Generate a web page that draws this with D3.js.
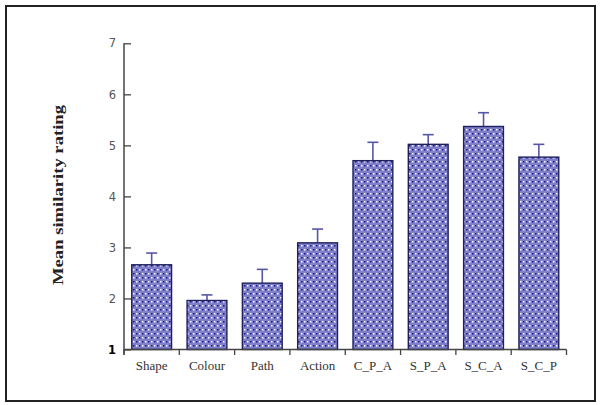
<!DOCTYPE html>
<html>
<head>
<meta charset="utf-8">
<script src="https://cdn.jsdelivr.net/npm/d3@7/dist/d3.min.js"></script>
<style>
  html, body { margin: 0; padding: 0; background: #fff; }
  svg { display: block; }
</style>
</head>
<body>
<svg id="chart" width="600" height="405"></svg>
<script>
// Stimulus conditions and their mean similarity ratings (with the upper end of each error bar)
const conditions = ["Shape", "Colour", "Path", "Action", "C_P_A", "S_P_A", "S_C_A", "S_C_P"];
const meanRating = [2.66, 1.96, 2.30, 3.09, 4.70, 5.02, 5.37, 4.77];
const errorTop   = [2.89, 2.07, 2.57, 3.36, 5.06, 5.21, 5.64, 5.02];
const yTicks     = [1, 2, 3, 4, 5, 6, 7];

const svg = d3.select("#chart");

// Outer frame
svg.append("rect")
  .attr("x", 6).attr("y", 6)
  .attr("width", 589).attr("height", 395)
  .attr("fill", "#fff")
  .attr("stroke", "#222").attr("stroke-width", 2);

// Dotted fill used for the bars: alternating rows of navy and white dots
const defs = svg.append("defs");
const pat = defs.append("pattern")
  .attr("id", "dots")
  .attr("patternUnits", "userSpaceOnUse")
  .attr("width", 6).attr("height", 8);
pat.append("rect").attr("width", 6).attr("height", 8).attr("fill", "#7f7fcc");
[[1, 1, "#1c1c80"], [4, 1, "#ffffff"], [1, 5, "#ffffff"], [4, 5, "#1c1c80"]].forEach(([px, py, col]) => {
  pat.append("rect").attr("x", px).attr("y", py)
    .attr("width", 1.5).attr("height", 1.5).attr("fill", col);
});

const x = d3.scaleBand()
  .domain(conditions)
  .range([124, 566.5])
  .paddingInner(0.28)
  .paddingOuter(0.14);

const y = d3.scaleLinear()
  .domain([1, 7])
  .range([349.5, 43.3]);

const rows = conditions.map((c, i) => ({ c, m: meanRating[i], e: errorTop[i] }));

// Error bars (drawn first so the bar top covers the stem base)
const err = svg.append("g").attr("stroke", "#5656a8").attr("stroke-width", 1.6).attr("fill", "none");
err.selectAll("line.stem").data(rows).join("line")
  .attr("class", "stem")
  .attr("x1", d => x(d.c) + x.bandwidth() / 2)
  .attr("x2", d => x(d.c) + x.bandwidth() / 2)
  .attr("y1", d => y(d.m))
  .attr("y2", d => y(d.e));
err.selectAll("line.cap").data(rows).join("line")
  .attr("class", "cap")
  .attr("x1", d => x(d.c) + x.bandwidth() / 2 - 5.5)
  .attr("x2", d => x(d.c) + x.bandwidth() / 2 + 5.5)
  .attr("y1", d => y(d.e))
  .attr("y2", d => y(d.e));

// Bars
svg.append("g").selectAll("rect").data(rows).join("rect")
  .attr("x", d => x(d.c))
  .attr("y", d => y(d.m))
  .attr("width", x.bandwidth())
  .attr("height", d => y(1) - y(d.m))
  .attr("fill", "url(#dots)")
  .attr("stroke", "#20205e")
  .attr("stroke-width", 1.4);

// Y axis
const yAxis = svg.append("g")
  .attr("transform", "translate(124,0)")
  .call(d3.axisLeft(y).tickValues(yTicks).tickFormat(d3.format("d"))
    .tickSizeInner(-7).tickSizeOuter(0).tickPadding(8));
yAxis.select(".domain").attr("stroke", "#444").attr("stroke-width", 1.5)
  .attr("d", `M0,${y(7)}V${y(1) + 5}`);
yAxis.selectAll(".tick line").attr("stroke", "#444").attr("stroke-width", 1.3);
yAxis.selectAll(".tick text")
  .attr("font-family", "'DejaVu Sans', sans-serif")
  .attr("font-size", 11.5)
  .attr("fill", d => d === 1 ? "#000" : "#555")
  .attr("font-weight", d => d === 1 ? "bold" : "normal");

// X axis: baseline with ticks at category boundaries
const xAxis = svg.append("g");
xAxis.append("line")
  .attr("x1", 124).attr("x2", x.range()[1])
  .attr("y1", y(1)).attr("y2", y(1))
  .attr("stroke", "#444").attr("stroke-width", 1.5);
const bounds = conditions.map(c => x(c) - x.step() * x.paddingInner() / 2).concat([x.range()[1]]);
xAxis.selectAll("line.tk").data(bounds).join("line")
  .attr("class", "tk")
  .attr("x1", d => d).attr("x2", d => d)
  .attr("y1", y(1)).attr("y2", y(1) + 5.5)
  .attr("stroke", "#444").attr("stroke-width", 1.3);
xAxis.selectAll("text").data(conditions).join("text")
  .attr("x", d => x(d) + x.bandwidth() / 2)
  .attr("y", 369.5)
  .attr("text-anchor", "middle")
  .attr("font-family", "'Liberation Serif', 'Times New Roman', serif")
  .attr("font-size", 13)
  .attr("fill", "#333")
  .text(d => d);

// Y axis title
svg.append("text")
  .attr("transform", "translate(63,195) rotate(-90)")
  .attr("text-anchor", "middle")
  .attr("font-family", "'Liberation Serif', 'Times New Roman', serif")
  .attr("font-weight", "bold")
  .attr("font-size", 14)
  .attr("fill", "#222")
  .attr("textLength", 180)
  .attr("lengthAdjust", "spacingAndGlyphs")
  .text("Mean similarity rating");
</script>
</body>
</html>
